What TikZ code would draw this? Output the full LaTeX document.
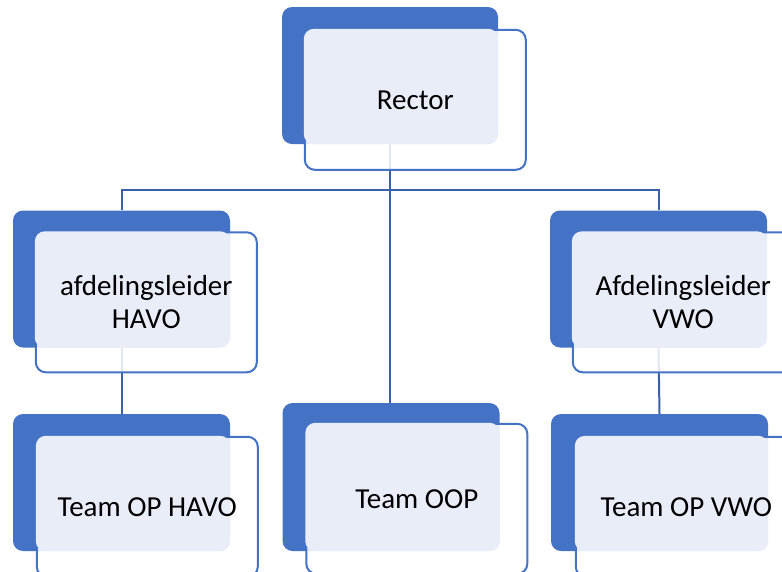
\documentclass[tikz,border=0pt]{standalone}
\usepackage{fontspec}
\setmainfont{Carlito}
\usepackage{tikz}
\usetikzlibrary{calc}
\usetikzlibrary{positioning}
\definecolor{accent}{RGB}{68,114,196}
\definecolor{pale}{RGB}{233,237,247}
\definecolor{linkblue}{RGB}{58,96,170}

\begin{document}
\begin{tikzpicture}[x=1pt, y=-1pt,
back/.style={rectangle,rounded corners=10pt,fill=accent,inner sep=0pt,minimum width=217pt,minimum height=137pt},
frame/.style={rectangle,rounded corners=10pt,draw=accent,line width=2pt,fill=white,fill opacity=0.85,draw opacity=1,inner sep=0pt,minimum width=221pt,minimum height=140pt,anchor=north west},
caption/.style={align=center,font=\fontsize{29}{33}\selectfont},
link/.style={draw=linkblue,line width=2pt}]

\useasboundingbox (0,0) rectangle (782,571);

% dark back boxes
\node [back, minimum width=216pt] (rd) at (390,75.5) {};
\node [back] (hd) at (121.5,279) {};
\node [back] (vd) at (658.5,279) {};
\node [back] (thd) at (121.5,482.5) {};
\node [back, minimum height=148pt] (tod) at (391,477) {};
\node [back] (tvd) at (659.5,482.5) {};

% connectors
\coordinate (bar) at (390,190);
\draw [link] (rd.south) -- (rd.south |- tod.north);
\draw [link] (hd.north) |- (bar) -| (vd.north);
\draw [link] (hd.south) -- (thd.north);
\draw [link] (vd.south) -- (tvd.north);

% front frames
\node [frame] (r) at ($(rd.north west)+(22,22)$) {};
\node [frame] (h) at ($(hd.north west)+(22,21)$) {};
\node [frame] (v) at ($(vd.north west)+(22,21)$) {};
\node [frame] (th) at ($(thd.north west)+(23,22)$) {};
\node [frame, minimum height=150pt] (to) at ($(tod.north west)+(23,20)$) {};
\node [frame] (tv) at ($(tvd.north west)+(24,22)$) {};

% pale overlap
\fill [pale, rounded corners=10pt] (r.north west) rectangle (rd.south east);
\fill [pale, rounded corners=10pt] (h.north west) rectangle (hd.south east);
\fill [pale, rounded corners=10pt] (v.north west) rectangle (vd.south east);
\fill [pale, rounded corners=10pt] (th.north west) rectangle (thd.south east);
\fill [pale, rounded corners=10pt] (to.north west) rectangle (tod.south east);
\fill [pale, rounded corners=10pt] (tv.north west) rectangle (tvd.south east);

% labels
\node [caption] (rt) at (r.center) {Rector};
\node [caption] (ht) at (h.center) {afdelingsleider\\HAVO};
\node [caption] (vt) at (v.center) {Afdelingsleider\\VWO};
\node [caption] (tht) at (th.center) {Team OP HAVO};
\node [caption] (tot) at (to.center) {Team OOP};
\node [caption] (tvt) at (tv.center) {Team OP VWO};

\end{tikzpicture}
\end{document}
